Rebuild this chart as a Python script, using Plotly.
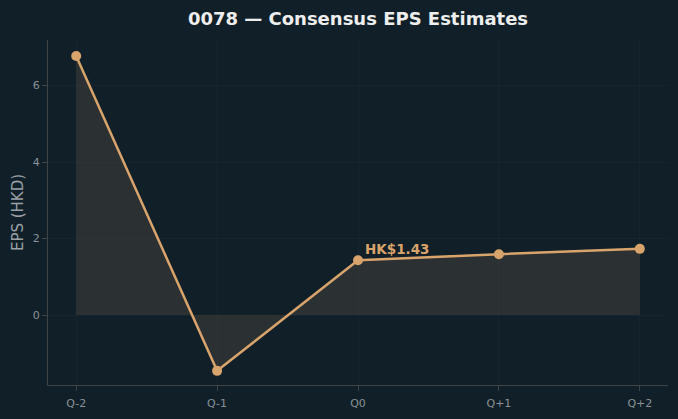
import plotly.graph_objects as go

quarters = ["Q-2", "Q-1", "Q0", "Q+1", "Q+2"]
eps = [6.77, -1.46, 1.43, 1.59, 1.73]
title = "0078 — Consensus EPS Estimates"
label_text = "HK$1.43"

bg = "#112028"
line_c = "#d9a46c"

fig = go.Figure()
fig.add_trace(go.Scatter(
    x=quarters, y=eps, mode="lines+markers",
    line=dict(color=line_c, width=2.5),
    marker=dict(size=10, color=line_c),
    fill="tozeroy", fillcolor="rgba(70,65,60,0.5)",
    hoverinfo="skip", showlegend=False,
))
fig.add_annotation(x=quarters[2], y=eps[2], text="<b>" + label_text + "</b>",
                   showarrow=False, xanchor="left", yanchor="bottom",
                   xshift=5, yshift=1, font=dict(color=line_c, size=13.5, family="DejaVu Sans"))

fig.update_layout(
    width=678, height=419,
    paper_bgcolor=bg, plot_bgcolor=bg,
    margin=dict(l=48, r=10, t=40, b=34),
    title=dict(text="<b>" + title + "</b>", x=0.528, xanchor="center", y=0.955, yanchor="middle",
               font=dict(color="#eeeeee", size=18, family="DejaVu Sans")),
    font=dict(family="DejaVu Sans", color="#8a9096", size=11),
    xaxis=dict(range=[-0.2, 4.2], showline=True, linecolor="#3e4346", linewidth=1,
               ticks="outside", tickcolor="#3e4346", ticklen=5, ticklabelstandoff=3,
               showgrid=True, gridcolor="rgba(255,255,255,0.025)", zeroline=False),
    yaxis=dict(range=[-1.83, 7.19], showline=True, linecolor="#3e4346", linewidth=1,
               ticks="outside", tickcolor="#3e4346", ticklen=5,
               tickvals=[0, 2, 4, 6],
               showgrid=True, gridcolor="rgba(255,255,255,0.025)", zeroline=False,
               title=dict(text="EPS (HKD)", font=dict(size=15, color="#9aa0a6"), standoff=5)),
)
fig.write_html("out.html")
